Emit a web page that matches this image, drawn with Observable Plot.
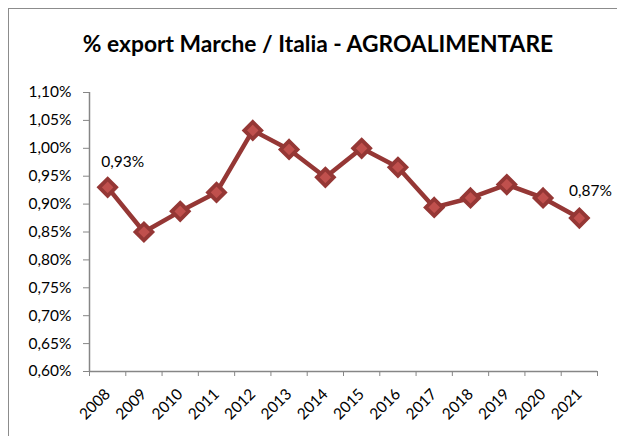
<!DOCTYPE html>
<html>
<head>
<meta charset="utf-8">
<script src="https://cdn.jsdelivr.net/npm/d3@7"></script>
<script src="https://cdn.jsdelivr.net/npm/@observablehq/plot@0.6"></script>
<style>
  html, body { margin: 0; padding: 0; background: #fff; width: 617px; height: 436px; overflow: hidden; }
  #frame { position: absolute; left: 8px; top: 8px; width: 800px; height: 600px; border: 1.5px solid #8c8c8c; box-sizing: border-box; }
  #title { position: absolute; left: 0; top: 29px; width: 636px; text-align: center; font-family: Lato, sans-serif; font-weight: bold; font-size: 22.8px; color: #000; }
  #chart { position: absolute; left: 0; top: 75px; }
</style>
</head>
<body>
<div id="frame"></div>
<div id="title">% export Marche / Italia - AGROALIMENTARE</div>
<div id="chart"></div>
<script>
const years = [2008, 2009, 2010, 2011, 2012, 2013, 2014, 2015, 2016, 2017, 2018, 2019, 2020, 2021];
const shares = [0.930, 0.850, 0.887, 0.921, 1.032, 0.998, 0.948, 1.000, 0.966, 0.894, 0.911, 0.935, 0.911, 0.875];
const yTicks = [0.60, 0.65, 0.70, 0.75, 0.80, 0.85, 0.90, 0.95, 1.00, 1.05, 1.10];
const firstLabel = [{year: 2008, text: "0,93%"}];
const lastLabel = [{year: 2021, text: "0,87%"}];

const data = years.map((y, i) => ({year: y, value: shares[i]}));
const withValue = arr => arr.map(l => ({...l, value: shares[years.indexOf(l.year)]}));
const bounds = years.map(y => y - 0.5).concat([years[years.length - 1] + 0.5]);
const fmt = v => v.toFixed(2).replace(".", ",") + "%";
const dark = "#953735", light = "#c0504d", axisGray = "#868686";

const chart = Plot.plot({
  width: 617,
  height: 361,
  marginLeft: 89,
  marginRight: 20,
  marginTop: 17,
  marginBottom: 65,
  style: {fontFamily: "Lato, sans-serif", fontSize: "15.5px", color: "#000", background: "transparent"},
  x: {type: "linear", domain: [2007.5, 2021.5], axis: null},
  y: {domain: [0.60, 1.10], axis: null},
  marks: [
    Plot.axisY({ticks: yTicks, tickFormat: fmt, tickSize: 6, tickPadding: 12, stroke: axisGray, fontSize: 15.5, label: null}),
    Plot.ruleX([2007.5], {stroke: axisGray, strokeWidth: 1.5}),
    Plot.ruleY([0.60], {stroke: axisGray, strokeWidth: 1.5}),
    Plot.axisX({ticks: bounds, tickFormat: () => "", tickSize: 5, stroke: axisGray, label: null}),
    Plot.axisX({ticks: years, tickFormat: d => String(d), tickSize: 0, tickRotate: -45, tickPadding: 20, fontSize: 15.5, label: null}),
    Plot.line(data, {x: "year", y: "value", stroke: dark, strokeWidth: 4.5}),
    Plot.dot(data, {x: "year", y: "value", symbol: "diamond2", r: 7.6, fill: light, stroke: dark, strokeWidth: 3.8}),
    Plot.text(withValue(firstLabel), {x: "year", y: "value", text: "text", dx: 15, dy: -25, fontSize: 15.5, fill: "#000"}),
    Plot.text(withValue(lastLabel), {x: "year", y: "value", text: "text", dx: 11, dy: -27, fontSize: 15.5, fill: "#000"})
  ]
});
document.getElementById("chart").appendChild(chart);
</script>
</body>
</html>
